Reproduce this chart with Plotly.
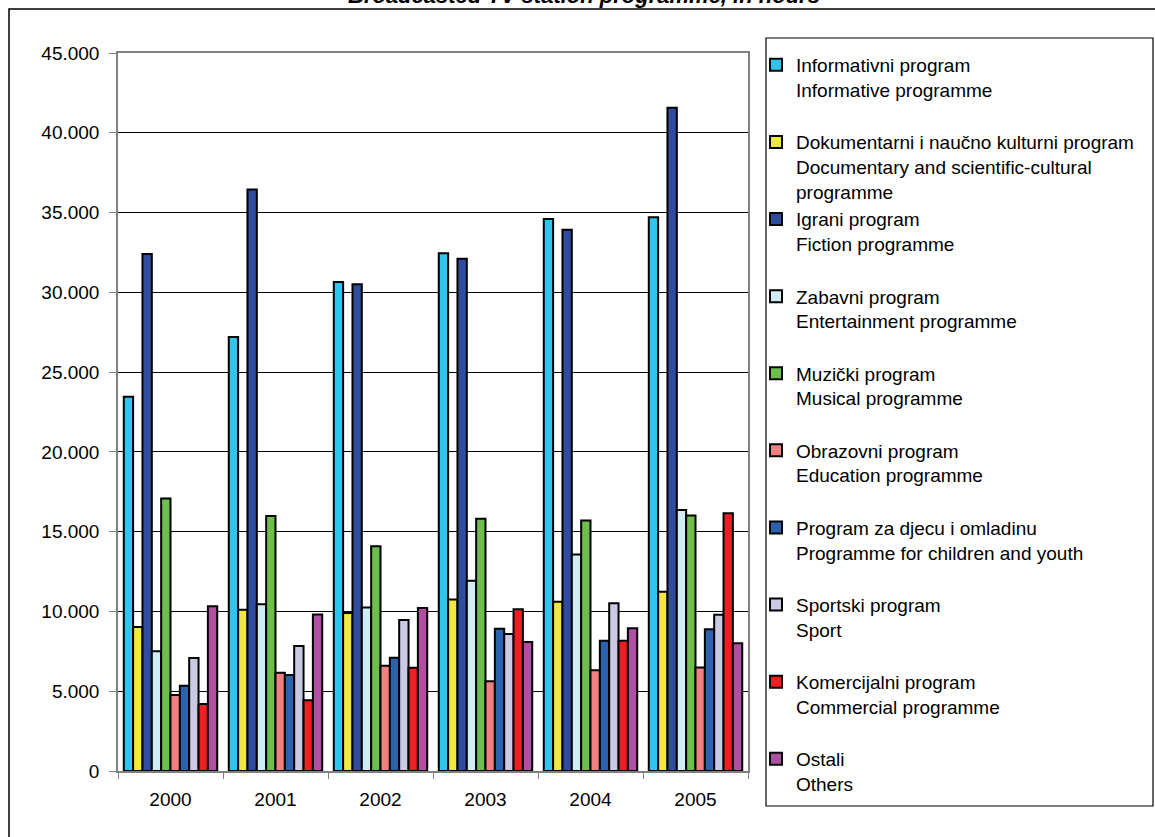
import plotly.graph_objects as go

# ---------------- data ----------------
years = ["2000", "2001", "2002", "2003", "2004", "2005"]

series_names = [
    "Informativni program<br>Informative programme<br> ",
    "Dokumentarni i naučno kulturni program<br>Documentary and scientific-cultural<br>programme",
    "Igrani program<br>Fiction programme<br> ",
    "Zabavni program<br>Entertainment programme<br> ",
    "Muzički program<br>Musical programme<br> ",
    "Obrazovni program<br>Education programme<br> ",
    "Program za djecu i omladinu<br>Programme for children and youth<br> ",
    "Sportski program<br>Sport<br> ",
    "Komercijalni program<br>Commercial programme<br> ",
    "Ostali<br>Others<br> ",
]

informative   = [23450, 27200, 30650, 32450, 34600, 34700]
documentary   = [9030, 10100, 9900, 10750, 10610, 11240]
fiction       = [32400, 36450, 30500, 32100, 33930, 41570]
entertainment = [7500, 10450, 10250, 11920, 13570, 16360]
musical       = [17080, 15980, 14090, 15810, 15700, 16020]
education     = [4770, 6150, 6590, 5630, 6320, 6480]
children      = [5340, 6020, 7100, 8910, 8160, 8880]
sport         = [7080, 7840, 9460, 8590, 10510, 9800]
commercial    = [4200, 4430, 6470, 10130, 8160, 16160]
others        = [10330, 9810, 10220, 8090, 8940, 8010]

values = [informative, documentary, fiction, entertainment, musical,
          education, children, sport, commercial, others]

colors = ["#30C4EF", "#EEE840", "#2F4C9E", "#CFEDF2", "#6DBE4B",
          "#F28080", "#2A62AD", "#CACAE4", "#EC2024", "#B050A2"]

# ---------------- layout helpers (pixel -> paper) ----------------
W, H = 1155, 837
L, R, T, B = 118, 748, 53, 771


def px(x):
    return (x - L) / (R - L)


def py(y):
    return (B - y) / (B - T)


FONT = "Liberation Sans, Arial, sans-serif"

fig = go.Figure()
for name, vals, col in zip(series_names, values, colors):
    fig.add_trace(go.Bar(
        x=years, y=vals, name=name,
        marker=dict(color=col, line=dict(color="#000000", width=2)),
        hoverinfo="skip",
    ))

fig.update_layout(
    width=W, height=H,
    margin=dict(l=L, r=W - R, t=T, b=H - B, pad=0),
    paper_bgcolor="white", plot_bgcolor="white",
    separators=",.",
    barmode="group", bargap=0.11, bargroupgap=0,
    font=dict(family=FONT, size=19, color="#000000"),
    showlegend=True,
    legend=dict(
        x=px(756), y=py(46), xanchor="left", yanchor="top",
        bgcolor="rgba(0,0,0,0)", borderwidth=0,
        font=dict(family=FONT, size=19, color="#000000"),
        valign="top", traceorder="normal", itemwidth=30,
        maxheight=830,
        itemclick=False, itemdoubleclick=False,
    ),
    xaxis=dict(
        type="category", tickson="boundaries",
        showline=True, linecolor="#808080", linewidth=1.5, mirror=True,
        ticks="outside", ticklen=6, tickcolor="#808080", tickwidth=1,
        showgrid=False, ticklabelstandoff=10,
        tickfont=dict(family=FONT, size=19, color="#000000"),
    ),
    yaxis=dict(
        range=[0, 45000], tick0=0, dtick=5000, tickformat=",d",
        showline=True, linecolor="#808080", linewidth=1.5, mirror=True,
        ticks="outside", ticklen=7, tickcolor="#808080", tickwidth=1,
        showgrid=True, gridcolor="#000000", gridwidth=1,
        zeroline=False, ticklabelstandoff=6,
        tickfont=dict(family=FONT, size=19, color="#000000"),
    ),
    shapes=[
        # outer chart border (right/bottom run off the page)
        dict(type="rect", xref="paper", yref="paper",
             x0=px(9), x1=px(1170), y0=py(850), y1=py(9),
             line=dict(color="#000000", width=1.5), layer="below"),
        # legend box
        dict(type="rect", xref="paper", yref="paper",
             x0=px(766), x1=px(1153), y0=py(806), y1=py(38),
             line=dict(color="#000000", width=1.2), layer="below"),
    ],
    annotations=[
        dict(text="<b><i>Broadcasted TV station programme, in hours</i></b>",
             xref="paper", yref="paper", x=px(584), y=py(10),
             xanchor="center", yanchor="bottom", showarrow=False,
             font=dict(family=FONT, size=22, color="#000000")),
    ],
)

fig.write_html("out.html", config={"displayModeBar": False},
               post_script="document.body.style.margin='0';")
